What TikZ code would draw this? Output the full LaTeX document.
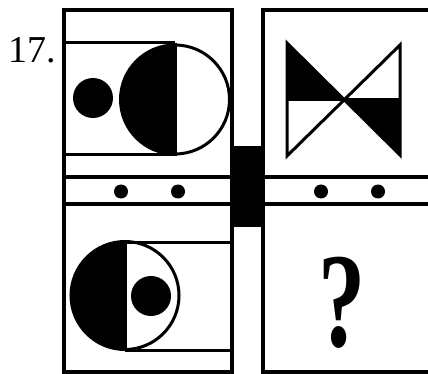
\documentclass[tikz,border=0pt]{standalone}
\usepackage{fontspec}
\setmainfont{Liberation Serif}
\tikzset{
  frame/.style={line width=3.2pt, line cap=rect},
  thin/.style={line width=3pt},
  blob/.style={fill=black},
}
\begin{document}
\begin{tikzpicture}[x=1pt,y=-1pt]
\useasboundingbox (0,0) rectangle (428,374);
% label
\node[anchor=base west, inner sep=0, font=\fontsize{38}{38}\selectfont] (lbl) at (8,63) {17.};
% black bar
\fill (232,146) rectangle (263,227);
% left column frame
\draw[frame] (64,10) rectangle (232,372);
\draw[frame] (64,177) -- (232,177);
\draw[frame] (64,204) -- (232,204);
% right column frame
\draw[frame] (430,10) -- (263,10) -- (263,372) -- (430,372);
\draw[frame] (263,177) -- (430,177);
\draw[frame] (263,204) -- (430,204);
% dots in strips
\foreach \x in {121,178,321,378} \fill (\x,191.5) circle (7);
% top-left cell
\draw[thin] (175,43) -- (64,43) -- (64,155) -- (175,155);
\fill (93,98) circle (20);
\begin{scope}
  \clip (110,30) rectangle (175,170);
  \fill (175,99.5) circle (54.5);
\end{scope}
\draw[thin] (175,99.5) circle (54.5);
\draw[thin] (175,43) -- (175,156);
% bottom-left cell
\draw[thin] (125,242) -- (232,242);
\draw[thin] (125,350) -- (232,350);
\begin{scope}
  \clip (60,230) rectangle (125,360);
  \fill (125,295.5) circle (54);
\end{scope}
\draw[thin] (125,295.5) circle (54);
\draw[thin] (125,241) -- (125,350);
\fill (151,296) circle (20);
% bow tie
\fill (287,43) -- (343.5,100) -- (287,100) -- cycle;
\fill (343.5,100) -- (400,100) -- (400,155) -- cycle;
\draw[thin, line join=miter] (287,43) -- (400,155) -- (400,45) -- (287,156) -- cycle;
\draw[thin] (287,100) -- (400,100);
% question mark
\node[anchor=base, inner sep=0, xscale=0.7, font=\bfseries\fontsize{135}{135}\selectfont] (q) at (342,346) {?};
\end{tikzpicture}
\end{document}
